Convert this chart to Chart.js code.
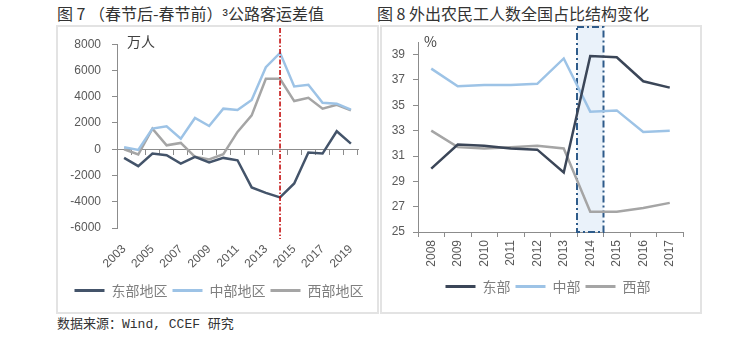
<!DOCTYPE html>
<html>
<head>
<meta charset="utf-8">
<script src="https://cdn.jsdelivr.net/npm/chart.js@4"></script>
<style>
  body { margin: 0; background: #fff; width: 752px; height: 340px; position: relative; overflow: hidden; }
  .frame { position: absolute; border: 2px solid #e3e3e3; box-sizing: border-box; }
  .title { position: absolute; font-family: "Noto Sans CJK SC", sans-serif; font-size: 16px; color: #333; line-height: 20px; white-space: nowrap; }
  .src { position: absolute; left: 57px; top: 316px; font-family: "Liberation Mono", "Noto Sans CJK SC", monospace; font-size: 13px; color: #333; line-height: 18px; }
  .box { position: absolute; }
</style>
</head>
<body>
<div class="title" style="left:57px; top:3px;">图 7 （春节后-春节前）<span style="font-family:'Liberation Sans';">³</span>公路客运差值</div>
<div class="title" style="left:377px; top:3px;">图 8 外出农民工人数全国占比结构变化</div>
<div class="frame" style="left:56px; top:25px; width:323px; height:289px;"></div>
<div class="frame" style="left:380px; top:25px; width:322px; height:289px;"></div>
<div class="box" style="left:57px; top:26px; width:320px; height:286px;"><canvas id="myChart1"></canvas></div>
<div class="box" style="left:382px; top:26px; width:324px; height:286px;"><canvas id="myChart2"></canvas></div>
<div class="src">数据来源：Wind, CCEF 研究</div>
<script>
// figure 7 data (万人)
var years = ['2003','2004','2005','2006','2007','2008','2009','2010','2011','2012','2013','2014','2015','2016','2017','2018','2019'];
var eastDiff = [-660, -1290, -330, -460, -1090, -580, -1010, -660, -840, -2910, -3320, -3670, -2610, -250, -330, 1370, 430];
var centralDiff = [150, -50, 1570, 1750, 810, 2380, 1770, 3090, 2990, 3750, 6250, 7340, 4780, 4910, 3540, 3470, 3010];
var westDiff = [0, -400, 1570, 300, 480, -580, -780, -380, 1320, 2580, 5370, 5370, 3670, 3920, 3090, 3390, 2960];
var markYear = '2014';

// figure 8 data (%)
var years2 = ['2008','2009','2010','2011','2012','2013','2014','2015','2016','2017'];
var eastShare = [30.0, 31.9, 31.8, 31.6, 31.5, 29.7, 38.9, 38.8, 36.9, 36.4];
var centralShare = [37.9, 36.5, 36.6, 36.6, 36.7, 38.7, 34.5, 34.6, 32.9, 33.0];
var westShare = [33.0, 31.7, 31.6, 31.7, 31.8, 31.6, 26.6, 26.6, 26.9, 27.3];
var shareTicks = [25, 27, 29, 31, 33, 35, 37, 39];
var boxYear = '2014';

var tickFont = { family: 'Liberation Sans', size: 12 };
var tickColor = '#595959';
var axisColor = '#8c8c8c';

function legendLabels(chart) {
  return chart.data.datasets.map(function (d, i) {
    return { text: d.label, fillStyle: d.borderColor, strokeStyle: d.borderColor, lineWidth: 0, datasetIndex: i, fontColor: '#7f7f7f' };
  });
}

var legendOpts = {
  position: 'bottom',
  labels: { boxWidth: 30, boxHeight: 3, padding: 5, color: '#7f7f7f', font: { family: 'Noto Sans CJK SC', size: 14 }, generateLabels: legendLabels }
};

// empty axis on the right, only reserves room so the legend centres like the original
function spacer(w) {
  return {
    position: 'right', display: true,
    grid: { display: false }, border: { display: false }, ticks: { display: false },
    afterFit: function (s) { s.width = w; }
  };
}

var unitLabel = {
  id: 'unitLabel',
  afterDraw: function (chart, args, opts) {
    var c = chart.ctx;
    c.save();
    c.fillStyle = '#404040';
    c.font = opts.size + 'px "Noto Sans CJK SC"';
    c.textBaseline = 'middle';
    c.fillText(opts.text, chart.chartArea.left + opts.dx, opts.y);
    c.restore();
  }
};

var markLine = {
  id: 'markLine',
  afterDatasetsDraw: function (chart) {
    var x = chart.scales.x.getPixelForValue(years.indexOf(markYear));
    var c = chart.ctx;
    c.save();
    c.strokeStyle = '#c00000';
    c.lineWidth = 1.5;
    c.setLineDash([5, 2, 1.5, 2]);
    c.beginPath();
    c.moveTo(x, 2);
    c.lineTo(x, chart.chartArea.bottom + 11);
    c.stroke();
    c.restore();
  }
};

var bandBox = {
  id: 'bandBox',
  beforeDatasetsDraw: function (chart) {
    var xs = chart.scales.x;
    var half = (xs.right - xs.left) / years2.length / 2;
    var cx = xs.getPixelForValue(years2.indexOf(boxYear));
    var c = chart.ctx;
    var top = 1, bottom = chart.chartArea.bottom;
    c.save();
    c.fillStyle = '#eaf2fa';
    c.fillRect(cx - half, top, half * 2, bottom - top);
    c.strokeStyle = '#2e5b8a';
    c.lineWidth = 2;
    c.setLineDash([7, 3, 2, 3]);
    c.strokeRect(cx - half, top, half * 2, bottom - top);
    c.restore();
  }
};

var ctx1 = document.getElementById('myChart1');
var ctx2 = document.getElementById('myChart2');

var myLineChart1 = new Chart(ctx1, {
  type: 'line',
  data: {
    labels: years,
    datasets: [
      { label: '东部地区', data: eastDiff, borderColor: '#44546a', backgroundColor: '#44546a' },
      { label: '中部地区', data: centralDiff, borderColor: '#9dc3e6', backgroundColor: '#9dc3e6' },
      { label: '西部地区', data: westDiff, borderColor: '#a5a5a5', backgroundColor: '#a5a5a5' }
    ]
  },
  options: {
    responsive: true,
    maintainAspectRatio: false,
    animation: false,
    layout: { padding: { left: 4, right: 0, top: 16, bottom: 4.5 } },
    elements: { point: { radius: 0 }, line: { borderWidth: 2.5, tension: 0 } },
    plugins: {
      legend: legendOpts,
      tooltip: { enabled: false },
      unitLabel: { text: '万人', dx: 10, y: 16, size: 14 }
    },
    scales: {
      x: {
        offset: true,
        border: { display: false },
        grid: { display: false },
        ticks: {
          autoSkip: false, minRotation: 45, maxRotation: 45, padding: 6,
          color: tickColor, font: tickFont,
          callback: function (v, i) { return i % 2 === 0 ? years[i] : ''; }
        },
        afterFit: function (s) { s.height = 50.5; }
      },
      x0: {
        type: 'category',
        offset: true,
        position: { y: 0 },
        border: { color: axisColor, width: 1 },
        grid: { drawOnChartArea: false, tickLength: 5, color: axisColor, offset: true },
        ticks: { display: false }
      },
      y: {
        min: -6000, max: 8000,
        border: { color: axisColor, width: 1 },
        grid: { drawOnChartArea: false, tickLength: 5, color: axisColor },
        ticks: { stepSize: 2000, padding: 11, color: tickColor, font: tickFont, callback: function (v) { return String(v); } },
        afterFit: function (s) { s.width = 56; }
      },
      yPad: spacer(19)
    }
  },
  plugins: [unitLabel, markLine]
});

var myLineChart2 = new Chart(ctx2, {
  type: 'line',
  data: {
    labels: years2,
    datasets: [
      { label: '东部', data: eastShare, borderColor: '#3b4658', backgroundColor: '#3b4658' },
      { label: '中部', data: centralShare, borderColor: '#9dc3e6', backgroundColor: '#9dc3e6' },
      { label: '西部', data: westShare, borderColor: '#a5a5a5', backgroundColor: '#a5a5a5' }
    ]
  },
  options: {
    responsive: true,
    maintainAspectRatio: false,
    animation: false,
    layout: { padding: { left: 8, right: 0, top: 16, bottom: 8.5 } },
    elements: { point: { radius: 0 }, line: { borderWidth: 2.5, tension: 0 } },
    plugins: {
      legend: legendOpts,
      tooltip: { enabled: false },
      unitLabel: { text: '%', dx: 6, y: 16, size: 14 }
    },
    scales: {
      x: {
        offset: true,
        border: { color: axisColor, width: 1 },
        grid: { drawOnChartArea: false, tickLength: 5, color: axisColor, offset: true },
        ticks: { autoSkip: false, minRotation: 90, maxRotation: 90, padding: 3, color: tickColor, font: tickFont },
        afterFit: function (s) { s.height = 42.5; }
      },
      y: {
        min: 25, max: 40,
        border: { color: axisColor, width: 1 },
        grid: { drawOnChartArea: false, tickLength: 5, color: axisColor },
        ticks: { padding: 8, color: tickColor, font: tickFont },
        afterBuildTicks: function (s) { s.ticks = shareTicks.map(function (v) { return { value: v }; }); },
        afterFit: function (s) { s.width = 28; }
      },
      yPad: spacer(23)
    }
  },
  plugins: [unitLabel, bandBox]
});
</script>
</body>
</html>
